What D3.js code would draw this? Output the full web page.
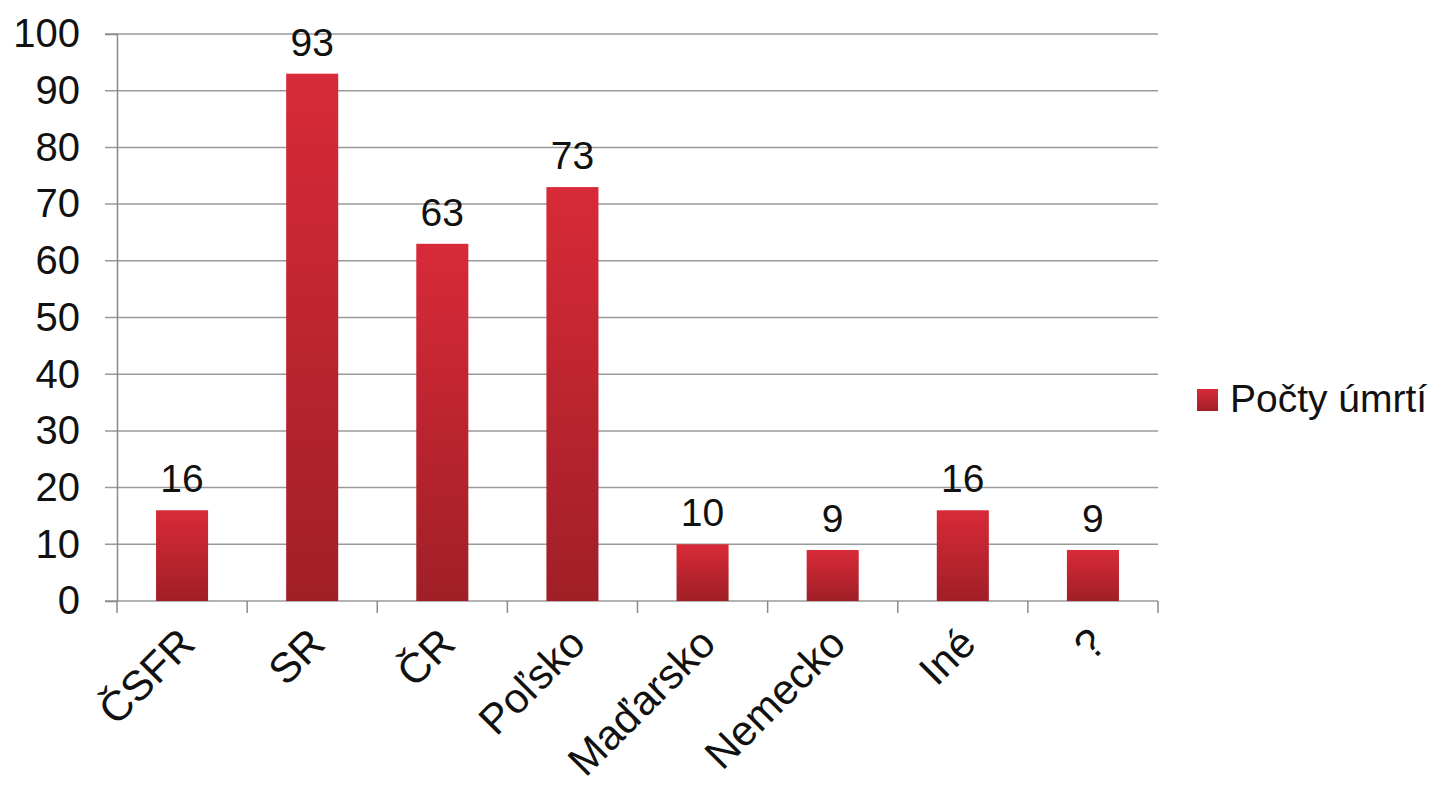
<!DOCTYPE html>
<html>
<head>
<meta charset="utf-8">
<script src="https://cdn.jsdelivr.net/npm/d3@7"></script>
<style>
  body { margin: 0; background: #fff; }
  text { font-family: "Liberation Sans", Arial, sans-serif; fill: #111; }
</style>
</head>
<body>
<div class="chart"></div>
<script>
// data
const countries = ["ČSFR", "SR", "ČR", "Poľsko", "Maďarsko", "Nemecko", "Iné", "?"];
const deaths = [16, 93, 63, 73, 10, 9, 16, 9];
const yTicks = [0, 10, 20, 30, 40, 50, 60, 70, 80, 90, 100];
const seriesName = "Počty úmrtí";

const width = 1454;
const height = 800;
const margin = { top: 34, right: 296, bottom: 199, left: 117 };

const svg = d3.select("div.chart")
    .append("svg")
    .attr("width", width)
    .attr("height", height);

const defs = svg.append("defs");
const grad = defs.append("linearGradient")
    .attr("id", "barFill")
    .attr("x1", 0).attr("y1", 0)
    .attr("x2", 0).attr("y2", 1);
grad.append("stop").attr("offset", "0%").attr("stop-color", "#d82a38");
grad.append("stop").attr("offset", "100%").attr("stop-color", "#a01f27");

const x = d3.scaleBand()
    .domain(countries)
    .range([margin.left, width - margin.right])
    .paddingInner(0.6)
    .paddingOuter(0.3);

const y = d3.scaleLinear()
    .domain([0, 100])
    .range([height - margin.bottom, margin.top]);

// gridlines with outer tick stubs
svg.append("g")
    .selectAll("line")
    .data(yTicks)
    .enter()
    .append("line")
    .attr("x1", margin.left - 12)
    .attr("x2", width - margin.right)
    .attr("y1", d => y(d))
    .attr("y2", d => y(d))
    .attr("stroke", "#9a9a9a")
    .attr("stroke-width", 1.5);

// y axis
const yAxis = svg.append("g")
    .attr("transform", `translate(${margin.left},0)`)
    .call(d3.axisLeft(y).tickValues(yTicks).tickSize(12).tickPadding(25));
yAxis.select(".domain").attr("stroke", "#8a8a8a").attr("stroke-width", 1.5);
yAxis.selectAll(".tick line").remove();
yAxis.selectAll("text").style("font-size", "40px").attr("fill", "#111");

// x axis: ticks between categories
const boundaries = d3.range(countries.length + 1).map(i => margin.left + i * (width - margin.left - margin.right) / countries.length);
svg.append("g")
    .selectAll("line")
    .data(boundaries)
    .enter()
    .append("line")
    .attr("x1", d => d).attr("x2", d => d)
    .attr("y1", y(0)).attr("y2", y(0) + 12)
    .attr("stroke", "#8a8a8a")
    .attr("stroke-width", 1.5);

// bars
svg.append("g")
    .selectAll("rect")
    .data(countries)
    .enter()
    .append("rect")
    .attr("x", d => x(d))
    .attr("y", (d, i) => y(deaths[i]))
    .attr("width", x.bandwidth())
    .attr("height", (d, i) => y(0) - y(deaths[i]))
    .attr("fill", "url(#barFill)");

// value labels
svg.append("g")
    .selectAll("text")
    .data(countries)
    .enter()
    .append("text")
    .attr("x", d => x(d) + x.bandwidth() / 2)
    .attr("y", (d, i) => y(deaths[i]) - 18)
    .attr("text-anchor", "middle")
    .style("font-size", "39px")
    .text((d, i) => deaths[i]);

// category labels, rotated
svg.append("g")
    .selectAll("text")
    .data(countries)
    .enter()
    .append("text")
    .attr("transform", d => `translate(${x(d) + x.bandwidth() / 2 - 6},${y(0) + 24}) rotate(-45)`)
    .attr("text-anchor", "end")
    .attr("dy", "0.71em")
    .style("font-size", "42px")
    .text(d => d);

// legend
const legend = svg.append("g").attr("transform", "translate(1197,389)");
legend.append("rect")
    .attr("width", 21)
    .attr("height", 22)
    .attr("fill", "url(#barFill)");
legend.append("text")
    .attr("x", 33)
    .attr("y", 23)
    .style("font-size", "39px")
    .text(seriesName);
</script>
</body>
</html>
